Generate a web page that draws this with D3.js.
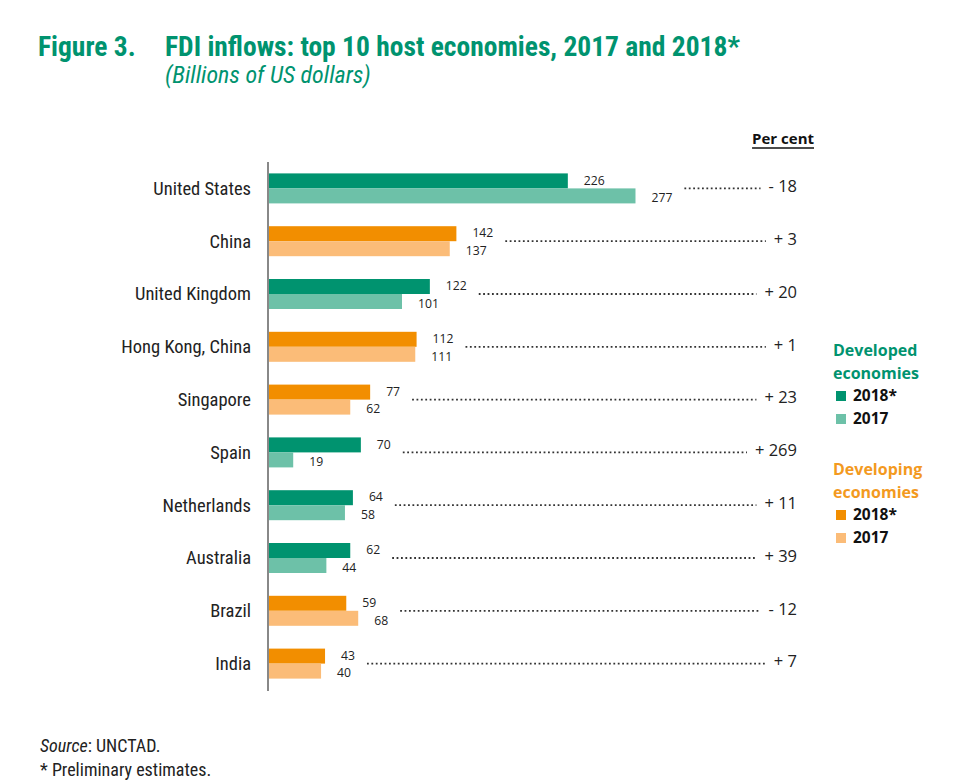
<!DOCTYPE html>
<html><head><meta charset="utf-8">
<script src="https://cdn.jsdelivr.net/npm/d3@7"></script>
<style>body{margin:0;background:#fff}svg{display:block}</style>
</head><body>
<script>
const countries = ["United States","China","United Kingdom","Hong Kong, China","Singapore","Spain","Netherlands","Australia","Brazil","India"];
const groups = ["developed","developing","developed","developing","developing","developed","developed","developed","developing","developing"];
const values2018 = [226,142,122,112,77,70,64,62,59,43];
const values2017 = [277,137,101,111,62,19,58,44,68,40];
const percentLabels = ["- 18","+ 3","+ 20","+ 1","+ 23","+ 269","+ 11","+ 39","- 12","+ 7"];
const years = ["2018*","2017"];

const colors = {
  developed: {"2018*":"#00936f","2017":"#6dc1a8"},
  developing: {"2018*":"#f28e00","2017":"#fbbc78"}
};
const titleGreen = "#00936f";
const orangeText = "#f39a1f";

const W = 960, H = 782;
const svg = d3.select("body").append("svg").attr("width", W).attr("height", H);

const narrow = "'Liberation Sans Narrow','Arial Narrow','Roboto Condensed',sans-serif";
const calib = "'Open Sans','Lato',sans-serif";

// Title
svg.append("text").attr("x",38).attr("y",56).attr("font-family",narrow).attr("font-weight","bold")
  .attr("font-size",27.5).attr("fill",titleGreen).text("Figure 3.");
svg.append("text").attr("x",165).attr("y",56).attr("font-family",narrow).attr("font-weight","bold")
  .attr("font-size",27.5).attr("fill",titleGreen).text("FDI inflows: top 10 host economies, 2017 and 2018*");
svg.append("text").attr("x",165).attr("y",83).attr("font-family",narrow).attr("font-style","italic")
  .attr("font-size",24).attr("fill",titleGreen).text("(Billions of US dollars)");

const data = countries.map((c,i)=>({country:c, group:groups[i], v:{"2018*":values2018[i],"2017":values2017[i]}, pct:percentLabels[i]}));

const x0 = 268;
const x = d3.scaleLinear().domain([0,300]).range([x0, x0+398]);
const y = d3.scaleBand().domain(countries).range([162,690]).padding(0);
const sub = d3.scaleBand().domain(years).range([-15,15]).padding(0);

// bars
const rows = svg.append("g").selectAll("g").data(data).join("g")
  .attr("transform", d=>`translate(0,${y(d.country)+y.bandwidth()/2})`);

rows.selectAll("rect").data(d=>years.map(k=>({k, v:d.v[k], group:d.group})))
  .join("rect")
  .attr("x", x(0)).attr("y", d=>sub(d.k)).attr("width", d=>x(d.v)-x(0)).attr("height", sub.bandwidth())
  .attr("fill", d=>colors[d.group][d.k]);

// value labels
rows.each(function(d){
  const g = d3.select(this);
  let maxEnd = 0;
  years.forEach((k,i)=>{
    const t = g.append("text").attr("x", x(d.v[k])+16).attr("y", sub(k)+sub.bandwidth()/2+(i?2:-0.5))
      .attr("dy","0.35em").attr("font-family",calib).attr("font-size",12.2).attr("fill","#222")
      .text(d.v[k]);
    const end = x(d.v[k])+16+t.node().getComputedTextLength();
    if (end>maxEnd) maxEnd = end;
  });
  const p = g.append("text").attr("x",797).attr("y",-2).attr("dy","0.35em").attr("text-anchor","end")
    .attr("font-family",calib).attr("font-size",16.5).attr("fill","#222").text(d.pct);
  const pStart = 797 - p.node().getComputedTextLength();
  g.append("line").attr("x1", maxEnd+12).attr("x2", pStart-8).attr("y1",0).attr("y2",0)
    .attr("stroke","#333").attr("stroke-width",1.8).attr("stroke-dasharray","1.8,2.6");
  g.append("text").attr("x",251).attr("y",0).attr("dy","0.35em").attr("text-anchor","end")
    .attr("font-family",narrow).attr("font-size",18.5).attr("fill","#222").text(d.country);
});

// axis
const yAxis = d3.axisLeft(y).tickSize(0).tickFormat("");
svg.append("g").attr("transform",`translate(${x0},0)`).call(yAxis)
  .call(g=>g.select(".domain").attr("stroke","#888").attr("stroke-width",2).attr("d","M0,162V691"));

// Per cent heading
const pc = svg.append("text").attr("x",814).attr("y",144).attr("text-anchor","end")
  .attr("font-family",calib).attr("font-weight","bold").attr("font-size",15).attr("fill","#111").text("Per cent");
const pcw = pc.node().getComputedTextLength();
svg.append("line").attr("x1",814-pcw).attr("x2",814).attr("y1",148).attr("y2",148).attr("stroke","#111").attr("stroke-width",1.5);

// legend
const legend = [
  {title:["Developed","economies"], color:titleGreen, group:"developed", y:350},
  {title:["Developing","economies"], color:orangeText, group:"developing", y:469}
];
legend.forEach(L=>{
  L.title.forEach((t,i)=>svg.append("text").attr("x",833).attr("y",L.y+i*23).attr("dy","0.35em")
    .attr("font-family",calib).attr("font-weight","bold").attr("font-size",16).attr("fill",L.color).text(t));
  years.forEach((k,i)=>{
    const yy = L.y+46+i*23;
    svg.append("rect").attr("x",836).attr("y",yy-5).attr("width",10).attr("height",10).attr("fill",colors[L.group][k]);
    svg.append("text").attr("x",853).attr("y",yy).attr("dy","0.35em").attr("font-family",calib)
      .attr("font-weight","bold").attr("font-size",15.5).attr("fill","#111").text(k);
  });
});

// source
const s = svg.append("text").attr("x",40).attr("y",752).attr("font-family",narrow).attr("font-size",18).attr("fill","#222");
s.append("tspan").attr("font-style","italic").text("Source");
s.append("tspan").text(": UNCTAD.");
svg.append("text").attr("x",40).attr("y",776).attr("font-family",narrow).attr("font-size",18).attr("fill","#222").text("* Preliminary estimates.");
</script>
</body></html>
